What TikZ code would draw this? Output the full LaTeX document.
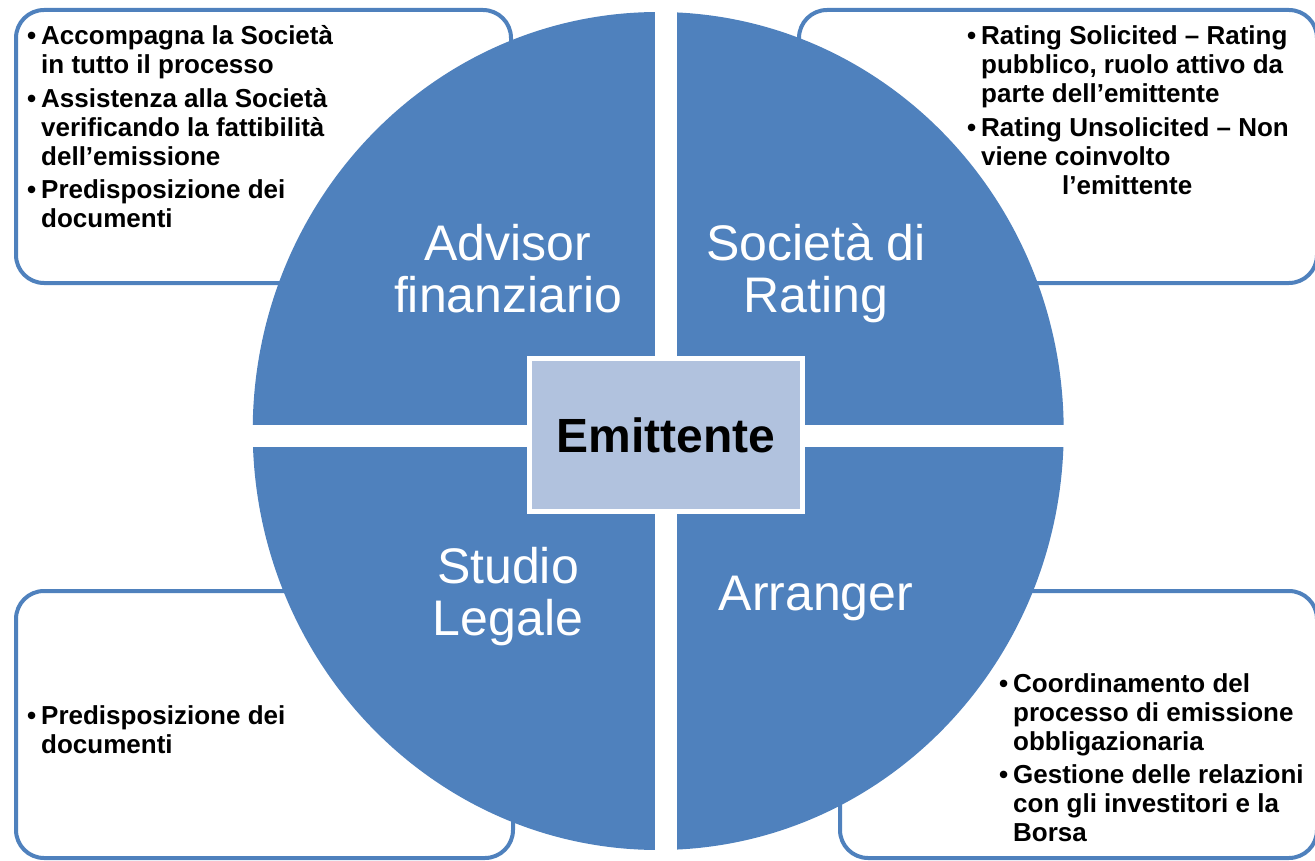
\documentclass[tikz,border=0pt]{standalone}
\usepackage{fontspec}
\setmainfont{Liberation Sans}
\definecolor{roleblue}{HTML}{4F81BD}
\definecolor{corefill}{HTML}{B1C2DE}
\tikzstyle{info box}=[draw=roleblue,line width=4pt,fill=white,rounded corners=28pt,inner sep=0pt]
\tikzstyle{quadrant}=[fill=roleblue]
\tikzstyle{core}=[draw=white,line width=5pt,fill=corefill,minimum width=273pt,minimum height=153pt,font=\bfseries\fontsize{48}{52}\selectfont]
\tikzstyle{role}=[anchor=base,text=white,inner sep=0pt,font=\fontsize{50}{52}\selectfont]
\tikzstyle{item}=[anchor=base west,inner sep=0pt,font=\bfseries\fontsize{26}{29}\selectfont]
\newcommand{\linestack}[2][l]{\begin{tabular}[t]{@{}#1@{}}#2\end{tabular}}
\newcommand{\bulmark}{\makebox[14pt][l]{\textbullet}}

\begin{document}
\begin{tikzpicture}[x=1pt,y=-1pt]
    \useasboundingbox (0,0) rectangle (1315,861);
    % boxes behind the circle
    \foreach \pos/\name/\w/\h in {{(263.5,146.5)/advbox/495/273}, {(1058,146.5)/ratbox/518/273},
                                  {(264.5,724.5)/legbox/497/267}, {(1078.5,724.5)/arrbox/477/267}}
        \node[info box,minimum width=\w pt,minimum height=\h pt] (\name) at \pos {};

    % four quadrants of the circle
    \begin{scope}
        \clip (658.2,431) ellipse [x radius=405.5, y radius=419];
        \foreach \xl/\yt/\xr/\yb in {240/0/655/425, 677/0/1080/425, 240/447/655/861, 677/447/1080/861}
            \fill[quadrant] (\xl,\yt) rectangle (\xr,\yb);
    \end{scope}

    \node[core] (emittente) at (666,435) {Emittente};

    \foreach \pos/\name/\txt in {{(508,261)/advisor/{Advisor\\finanziario}}, {(816,261)/rating/{Società di\\Rating}},
                                 {(508,583)/legale/{Studio\\Legale}}, {(816,610)/arranger/{Arranger}}}
        \node[role] (\name) at \pos {\linestack[c]{\txt}};

    \foreach \pos/\name/\txt in {{(27,45)/accomp/{Accompagna la Società\\in tutto il processo}},
                                 {(27,108)/assist/{Assistenza alla Società\\verificando la fattibilità\\dell’emissione}},
                                 {(27,199)/docadv/{Predisposizione dei\\documenti}},
                                 {(967,45)/solic/{Rating Solicited – Rating\\pubblico, ruolo attivo da\\parte dell’emittente}},
                                 {(967,137)/unsolic/{Rating Unsolicited – Non\\viene coinvolto\\\hspace*{81pt}l’emittente}},
                                 {(27,724)/docleg/{Predisposizione dei\\documenti}},
                                 {(999,692)/coord/{Coordinamento del\\processo di emissione\\obbligazionaria}},
                                 {(999,783)/gest/{Gestione delle relazioni\\con gli investitori e la\\Borsa}}}
        \node[item] (\name) at \pos {\bulmark\linestack{\txt}};
\end{tikzpicture}
\end{document}
